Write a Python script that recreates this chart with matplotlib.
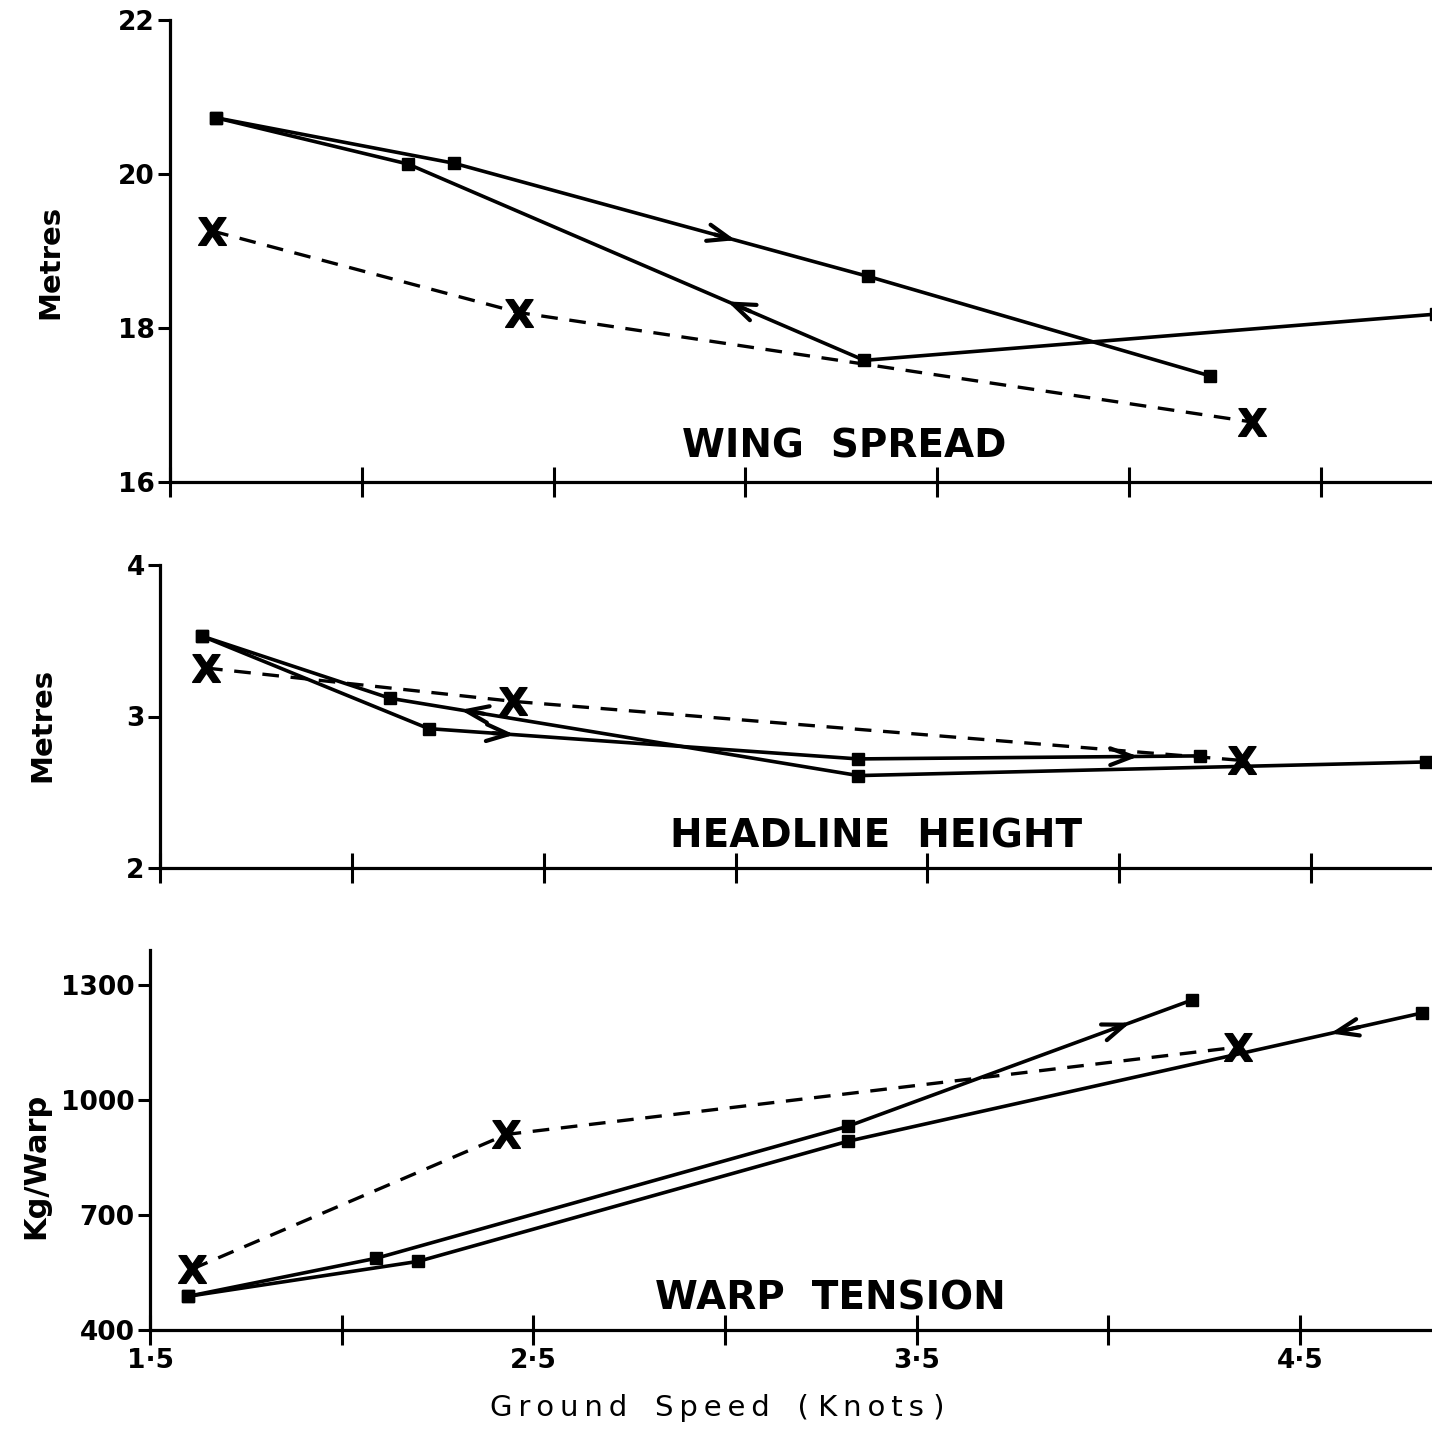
import matplotlib.pyplot as plt

speed_ticks = [1.5, 2.0, 2.5, 3.0, 3.5, 4.0, 4.5]
speed_labels = ['1·5', '', '2·5', '', '3·5', '', '4·5']

# wing spread (metres) - increasing speed run, decreasing speed run, X series
ws_up_x = [1.62, 2.24, 3.32, 4.21]
ws_up_y = [20.73, 20.14, 18.67, 17.38]
ws_down_x = [4.80, 3.31, 2.12, 1.62]
ws_down_y = [18.18, 17.58, 20.13, 20.73]
ws_cross_x = [1.61, 2.41, 4.32]
ws_cross_y = [19.26, 18.20, 16.78]

# headline height (metres)
hh_up_x = [1.61, 2.20, 3.32, 4.21]
hh_up_y = [3.53, 2.92, 2.72, 2.74]
hh_down_x = [4.80, 3.32, 2.10, 1.61]
hh_down_y = [2.70, 2.61, 3.12, 3.53]
hh_cross_x = [1.62, 2.42, 4.32]
hh_cross_y = [3.32, 3.10, 2.71]

# warp tension (kg/warp)
wt_up_x = [1.60, 2.09, 3.32, 4.22]
wt_up_y = [488, 587, 931, 1261]
wt_down_x = [4.82, 3.32, 2.20, 1.60]
wt_down_y = [1227, 892, 579, 488]
wt_cross_x = [1.61, 2.43, 4.34]
wt_cross_y = [559, 910, 1138]

W, H = 1432, 1430
fig = plt.figure(figsize=(W / 100, H / 100), dpi=100)


def add_arrow(ax, xs, ys, seg, frac):
    x0, y0 = xs[seg], ys[seg]
    x1, y1 = xs[seg + 1], ys[seg + 1]
    tip = (x0 + frac * (x1 - x0), y0 + frac * (y1 - y0))
    tail = (x0 + (frac - 0.05) * (x1 - x0), y0 + (frac - 0.05) * (y1 - y0))
    ax.annotate('', xy=tip, xytext=tail,
                arrowprops=dict(arrowstyle='->,head_length=0.8,head_width=0.3',
                                lw=3.0, color='black', shrinkA=0, shrinkB=0,
                                mutation_scale=20))


def panel(rect, xmax, ylim, yticks, up, down, cross, up_arrows, down_arrows, labels=False):
    ax = fig.add_axes(rect)
    ax.plot(up[0], up[1], color='black', lw=2.6, marker='s', ms=8)
    ax.plot(down[0], down[1], color='black', lw=2.6, marker='s', ms=8)
    ax.plot(cross[0], cross[1], color='black', lw=2.4, ls=(0, (5, 3.5)))
    ax.plot(cross[0], cross[1], ls='none', marker=r'$\mathbf{X}$', ms=20, color='black')
    for seg, frac in up_arrows:
        add_arrow(ax, up[0], up[1], seg, frac)
    for seg, frac in down_arrows:
        add_arrow(ax, down[0], down[1], seg, frac)

    ax.set_xlim(1.5, xmax)
    ax.set_ylim(*ylim)
    ax.set_xticks(speed_ticks)
    ax.set_xticklabels(speed_labels if labels else [''] * len(speed_ticks))
    ax.set_yticks(yticks)
    ax.spines['top'].set_visible(False)
    ax.spines['right'].set_visible(False)
    ax.spines['left'].set_linewidth(2.3)
    ax.spines['bottom'].set_linewidth(2.3)
    ax.tick_params(axis='x', direction='inout', length=22, width=2.2, pad=2, labelsize=19)
    ax.tick_params(axis='y', direction='out', length=9, width=2.2, pad=2, labelsize=19)
    for t in ax.get_xticklabels() + ax.get_yticklabels():
        t.set_fontweight('bold')
    return ax


panel([170 / W, 1 - 482 / H, 1 - 170 / W, 462 / H], 4.79, (16, 22), [16, 18, 20, 22],
      (ws_up_x, ws_up_y), (ws_down_x, ws_down_y), (ws_cross_x, ws_cross_y),
      [(1, 0.68)], [(1, 0.30)])
panel([160 / W, 1 - 868 / H, 1 - 160 / W, 303 / H], 4.815, (2, 4), [2, 3, 4],
      (hh_up_x, hh_up_y), (hh_down_x, hh_down_y), (hh_cross_x, hh_cross_y),
      [(1, 0.20), (2, 0.82)], [(1, 0.85)])
panel([150 / W, 1 - 1330 / H, 1 - 150 / W, 380 / H], 4.845, (400, 1391), [400, 700, 1000, 1300],
      (wt_up_x, wt_up_y), (wt_down_x, wt_down_y), (wt_cross_x, wt_cross_y),
      [(2, 0.82)], [(0, 0.16)], labels=True)

fig.text(844 / W, 1 - 457 / H, 'WING  SPREAD', ha='center', va='baseline',
         fontsize=28, fontweight='bold')
fig.text(876 / W, 1 - 847 / H, 'HEADLINE  HEIGHT', ha='center', va='baseline',
         fontsize=28, fontweight='bold')
fig.text(830 / W, 1 - 1310 / H, 'WARP  TENSION', ha='center', va='baseline',
         fontsize=28, fontweight='bold')

fig.text(50 / W, 1 - 262 / H, 'Metres', rotation=90, ha='center', va='center',
         fontsize=21, fontweight='bold')
fig.text(42 / W, 1 - 725 / H, 'Metres', rotation=90, ha='center', va='center',
         fontsize=21, fontweight='bold')
fig.text(36 / W, 1 - 1166 / H, 'Kg/Warp', rotation=90, ha='center', va='center',
         fontsize=22, fontweight='bold')

ts = '\u2009'
xlabel = ts.join('Ground') + '   ' + ts.join('Speed') + '   ( ' + ts.join('Knots') + ' )'
fig.text(717 / W, 1 - 1416 / H, xlabel, ha='center', va='baseline', fontsize=21)

fig.savefig('out.png', dpi=100)
